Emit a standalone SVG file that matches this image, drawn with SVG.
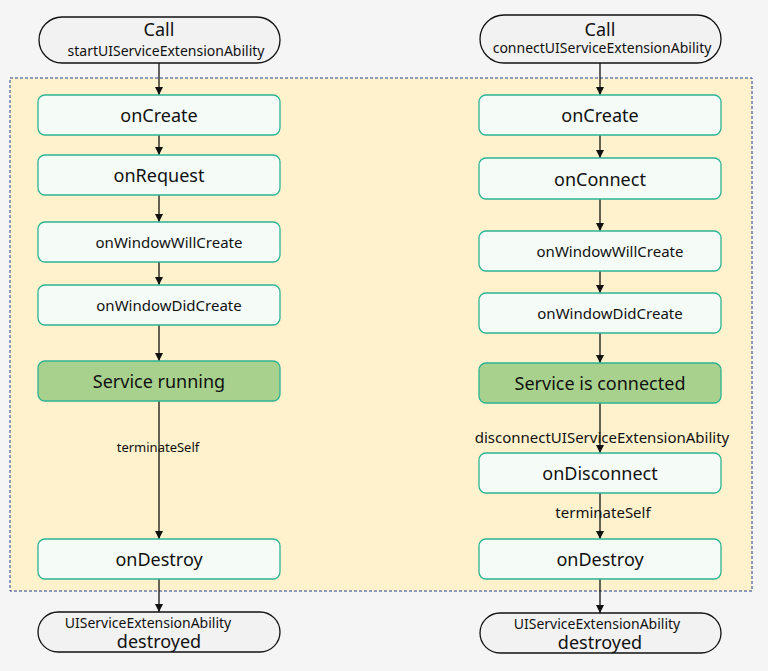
<svg xmlns="http://www.w3.org/2000/svg" width="768" height="671" viewBox="0 0 768 671">
<style>
text{font-family:"Noto Sans","Liberation Sans",sans-serif;fill:#111;text-anchor:middle}
.n{fill:#f5fcf7;stroke:#2eb394;stroke-width:1.3}
.g{fill:#a9d18e;stroke:#2eb394;stroke-width:1.3}
.p{fill:#f2f2f2;stroke:#111;stroke-width:1.3}
.b{font-size:18px}.s{font-size:15px}.t{font-size:13px}.q{font-size:14px}
.c line{stroke:#111;stroke-width:1.3;marker-end:url(#a)}
</style>
<defs><marker id="a" markerWidth="10" markerHeight="10" refX="9" refY="5" orient="auto" markerUnits="userSpaceOnUse"><path d="M1,1L9,5L1,9Z" fill="#111"/></marker></defs>
<rect width="768" height="671" fill="#f5f5f5"/>
<rect x="10" y="78" width="742" height="513" fill="#fff2cc" stroke="#1f3f8f" stroke-width="1" stroke-dasharray="3,2"/>
<g class="c">
<line x1="159" y1="63" x2="159" y2="95"/><line x1="159" y1="135" x2="159" y2="155"/><line x1="159" y1="195" x2="159" y2="222"/><line x1="159" y1="262" x2="159" y2="285"/><line x1="159" y1="325" x2="159" y2="361"/><line x1="159" y1="401" x2="159" y2="539"/><line x1="159" y1="579" x2="159" y2="612"/>
<line x1="600" y1="63" x2="600" y2="95"/><line x1="600" y1="135" x2="600" y2="158"/><line x1="600" y1="199" x2="600" y2="231"/><line x1="600" y1="271" x2="600" y2="293"/><line x1="600" y1="333" x2="600" y2="363"/><line x1="600" y1="403" x2="600" y2="453"/><line x1="600" y1="493" x2="600" y2="539"/><line x1="600" y1="579" x2="600" y2="613"/>
<text x="158" y="452" class="t">terminateSelf</text>
<text x="602" y="443" class="s">disconnectUIServiceExtensionAbility</text>
<text x="603" y="518" class="s">terminateSelf</text>
</g>
<g id="l0"><rect class="p" x="39" y="17" width="241" height="46" rx="23"/><text x="159" y="36" class="b">Call</text><text x="166" y="56" class="q">startUIServiceExtensionAbility</text></g>
<g id="l1"><rect class="n" x="38" y="95" width="242" height="40" rx="7"/><text x="159" y="122" class="b">onCreate</text></g>
<g id="l2"><rect class="n" x="38" y="155" width="242" height="40" rx="7"/><text x="159" y="182" class="b">onRequest</text></g>
<g id="l3"><rect class="n" x="38" y="222" width="242" height="40" rx="7"/><text x="169" y="248" class="s">onWindowWillCreate</text></g>
<g id="l4"><rect class="n" x="38" y="285" width="242" height="40" rx="7"/><text x="169" y="311" class="s">onWindowDidCreate</text></g>
<g id="l5"><rect class="g" x="38" y="361" width="242" height="40" rx="7"/><text x="159" y="388" class="b">Service running</text></g>
<g id="l6"><rect class="n" x="38" y="539" width="242" height="40" rx="7"/><text x="159" y="566" class="b">onDestroy</text></g>
<g id="l7"><rect class="p" x="38" y="612" width="242" height="40" rx="20"/><text x="148" y="628" class="q">UIServiceExtensionAbility</text><text x="159" y="648" class="b">destroyed</text></g>
<g id="r0"><rect class="p" x="480" y="15" width="241" height="48" rx="24"/><text x="600" y="36" class="b">Call</text><text x="602" y="53" class="q">connectUIServiceExtensionAbility</text></g>
<g id="r1"><rect class="n" x="479" y="95" width="242" height="40" rx="7"/><text x="600" y="122" class="b">onCreate</text></g>
<g id="r2"><rect class="n" x="479" y="158" width="242" height="41" rx="7"/><text x="600" y="186" class="b">onConnect</text></g>
<g id="r3"><rect class="n" x="479" y="231" width="242" height="40" rx="7"/><text x="610" y="257" class="s">onWindowWillCreate</text></g>
<g id="r4"><rect class="n" x="479" y="293" width="242" height="40" rx="7"/><text x="610" y="319" class="s">onWindowDidCreate</text></g>
<g id="r5"><rect class="g" x="479" y="363" width="242" height="40" rx="7"/><text x="600" y="390" class="b">Service is connected</text></g>
<g id="r6"><rect class="n" x="479" y="453" width="242" height="40" rx="7"/><text x="600" y="480" class="b">onDisconnect</text></g>
<g id="r7"><rect class="n" x="479" y="539" width="242" height="40" rx="7"/><text x="600" y="566" class="b">onDestroy</text></g>
<g id="r8"><rect class="p" x="480" y="613" width="241" height="40" rx="20"/><text x="597" y="629" class="q">UIServiceExtensionAbility</text><text x="600" y="649" class="b">destroyed</text></g>
</svg>
